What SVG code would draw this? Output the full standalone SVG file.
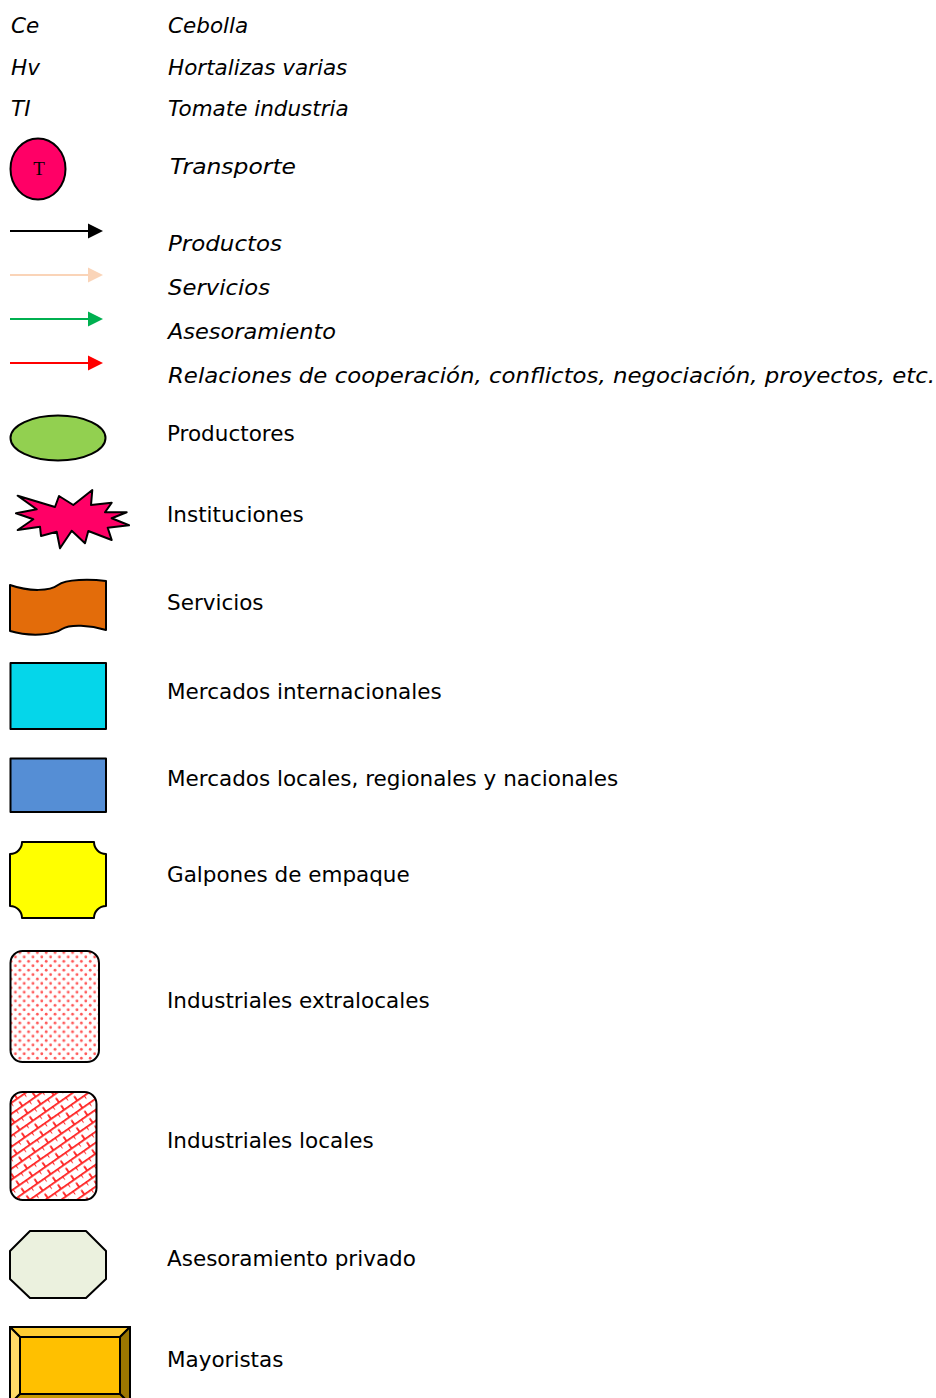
<svg xmlns="http://www.w3.org/2000/svg" width="936" height="1398" viewBox="0 0 936 1398">
<style>
.t{font-family:"DejaVu Sans",Verdana,sans-serif;font-size:21.5px;fill:#000}
.i{font-style:italic}
.s{stroke:#000;stroke-width:2;stroke-linejoin:round}
</style>
<defs>
<pattern id="dots" width="8.8" height="8.8" patternUnits="userSpaceOnUse">
<rect width="8.8" height="8.8" fill="#fff"/>
<circle cx="2.2" cy="2.2" r="1.4" fill="#ff2a2a" opacity="0.8"/>
<circle cx="6.6" cy="6.6" r="1.4" fill="#ff2a2a" opacity="0.8"/>
</pattern>
<pattern id="brick" width="16" height="9" patternUnits="userSpaceOnUse" patternTransform="rotate(-35)">
<rect width="16" height="9" fill="#fff"/>
<path d="M0,0.8H16M0,0V4.5M8,4.5V9" stroke="#ff1a1a" stroke-width="1.8" fill="none"/>
</pattern>
</defs>

<g id="legend-abbrev">
<text class="t i" x="11" y="33">Ce</text>
<text class="t i" x="168" y="33">Cebolla</text>
<text class="t i" x="11" y="75">Hv</text>
<text class="t i" x="168" y="75">Hortalizas varias</text>
<text class="t i" x="11" y="116">TI</text>
<text class="t i" x="168" y="116">Tomate industria</text>
</g>

<g id="transporte">
<ellipse cx="38" cy="169" rx="27.5" ry="30.5" fill="#ff0066" class="s"/>
<text x="39" y="175" font-family="Liberation Serif,serif" font-size="19" text-anchor="middle">T</text>
<text class="t i" x="170" y="174" font-size="24" textLength="126" lengthAdjust="spacingAndGlyphs">Transporte</text>
</g>

<g id="connectors">
<g id="arrow-productos">
<line x1="10" y1="231" x2="89" y2="231" stroke="#000" stroke-width="2"/>
<polygon points="88,223.5 103,231 88,238.5" fill="#000"/>
</g>
<g id="arrow-servicios">
<line x1="10" y1="275" x2="89" y2="275" stroke="#fad4b8" stroke-width="2"/>
<polygon points="88,267.5 103,275 88,282.5" fill="#fad4b8"/>
</g>
<g id="arrow-asesoramiento">
<line x1="10" y1="319" x2="89" y2="319" stroke="#00b050" stroke-width="2"/>
<polygon points="88,311.5 103,319 88,326.5" fill="#00b050"/>
</g>
<g id="arrow-relaciones">
<line x1="10" y1="363" x2="89" y2="363" stroke="#ff0000" stroke-width="2"/>
<polygon points="88,355.5 103,363 88,370.5" fill="#ff0000"/>
</g>
</g>
<g id="arrow-labels">
<text class="t i" x="168" y="251" font-size="23.5" textLength="114" lengthAdjust="spacingAndGlyphs">Productos</text>
<text class="t i" x="168" y="295" font-size="23.5" textLength="102" lengthAdjust="spacingAndGlyphs">Servicios</text>
<text class="t i" x="168" y="339" font-size="23.5" textLength="168" lengthAdjust="spacingAndGlyphs">Asesoramiento</text>
<text class="t i" x="168" y="383" font-size="23.5" textLength="767" lengthAdjust="spacingAndGlyphs">Relaciones de cooperación, conflictos, negociación, proyectos, etc.</text>
</g>

<g id="productores">
<ellipse cx="58" cy="438" rx="47.5" ry="22.5" fill="#92d050" class="s"/>
<text class="t" x="167" y="441">Productores</text>
</g>

<g id="instituciones">
<polygon class="s" fill="#ff0066" points="17.7,495.7 55,507 59,496 73.3,505 92.3,490 91,505 111.7,502.7 105,512.3 126.7,512.3 111.7,518.3 129,525.3 107.7,527.7 111.7,540 88.3,531 85,543.3 71.7,530.7 60,548.3 56.7,531.7 41,536 40,526.7 17.7,530 33.3,519.3 16,513.3 36.7,509.3"/>
<text class="t" x="167" y="522">Instituciones</text>
</g>

<g id="servicios">
<path class="s" fill="#e36c0a" d="M10,585 C30,592 50,591 58,585 C66,579 90,579 106,581 L106,630 C90,625 70,624 62,629 C54,635 30,637 10,631 Z"/>
<text class="t" x="167" y="610">Servicios</text>
</g>

<g id="mercados-internacionales">
<rect class="s" x="10.5" y="663" width="95.5" height="66" fill="#05d6ea"/>
<text class="t" x="167" y="699">Mercados internacionales</text>
</g>

<g id="mercados-locales">
<rect class="s" x="10.5" y="758.5" width="95.5" height="53.5" fill="#558ed5"/>
<text class="t" x="167" y="786">Mercados locales, regionales y nacionales</text>
</g>

<g id="galpones">
<path class="s" fill="#ffff00" d="M22,842 H94 A12,12 0 0 0 106,854 V906 A12,12 0 0 0 94,918 H22 A12,12 0 0 0 10,906 V854 A12,12 0 0 0 22,842 Z"/>
<text class="t" x="167" y="882">Galpones de empaque</text>
</g>

<g id="industriales-extralocales">
<rect class="s" x="10.5" y="951" width="88.5" height="111" rx="12" fill="url(#dots)"/>
<text class="t" x="167" y="1008">Industriales extralocales</text>
</g>

<g id="industriales-locales">
<rect class="s" x="10.5" y="1092" width="86" height="108" rx="12" fill="url(#brick)"/>
<text class="t" x="167" y="1148">Industriales locales</text>
</g>

<g id="asesoramiento-privado">
<polygon class="s" fill="#ebf1de" points="30,1231 86,1231 106,1251 106,1279 86,1298 30,1298 10,1279 10,1251"/>
<text class="t" x="167" y="1266">Asesoramiento privado</text>
</g>

<g id="mayoristas">
<rect x="10" y="1327" width="120" height="78" fill="#ffc000"/>
<polygon points="10,1327 130,1327 120,1337 20,1337" fill="#ffcd33" class="s"/>
<polygon points="10,1327 20,1337 20,1394 10,1404" fill="#ffd966" class="s"/>
<polygon points="130,1327 130,1404 120,1394 120,1337" fill="#9c7600" class="s"/>
<polygon points="10,1404 20,1394 120,1394 130,1404" fill="#c79800" class="s"/>
<rect x="20" y="1337" width="100" height="57" fill="#ffc000" class="s"/>
<rect x="10" y="1327" width="120" height="78" fill="none" class="s"/>
<text class="t" x="167" y="1367">Mayoristas</text>
</g>
</svg>
